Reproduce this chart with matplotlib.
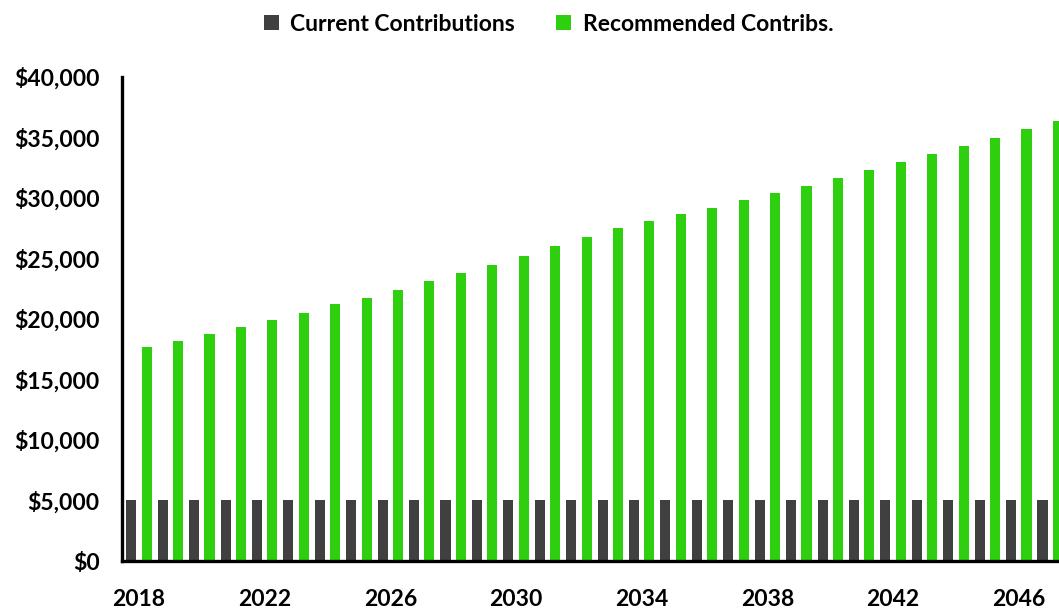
import numpy as np
import matplotlib.pyplot as plt
from matplotlib.ticker import FuncFormatter

plt.rcParams['font.family'] = ['Lato', 'DejaVu Sans']
plt.rcParams['font.weight'] = 'bold'

years = list(range(2018, 2048))
current = [5000] * len(years)
recommended = [17700, 18200, 18800, 19300, 19900, 20500, 21200, 21700, 22400, 23100,
               23800, 24500, 25200, 26000, 26800, 27500, 28100, 28700, 29200, 29800,
               30400, 31000, 31650, 32300, 32950, 33600, 34300, 34950, 35700, 36400]
tick_years = [2018, 2022, 2026, 2030, 2034, 2038, 2042, 2046]

grey = '#404040'
green = '#2ECF0E'

fig = plt.figure(figsize=(10.59, 6.08), dpi=100)
ax = fig.add_axes([0.1152, 0.0773, 0.8848, 0.7961])

x = np.arange(len(years))
w = 0.32
ax.bar(x - 0.245, current, w, color=grey, label='Current Contributions')
ax.bar(x + 0.245, recommended, w, color=green, label='Recommended Contribs.')

ax.set_xlim(-0.54, 29.28)
ax.set_ylim(0, 40000)
ax.set_yticks(range(0, 40001, 5000))
ax.yaxis.set_major_formatter(FuncFormatter(lambda v, p: '${:,.0f}'.format(v)))
ax.set_xticks([years.index(y) for y in tick_years])
ax.set_xticklabels([str(y) for y in tick_years])
ax.tick_params(axis='both', length=0, labelsize=16.5)
ax.tick_params(axis='y', pad=16)
ax.tick_params(axis='x', pad=20)

for s in ['top', 'right']:
    ax.spines[s].set_visible(False)
for s in ['left', 'bottom']:
    ax.spines[s].set_linewidth(2.4)
    ax.spines[s].set_color('black')

fig.legend(loc='center', bbox_to_anchor=(0.518, 0.96), ncol=2, frameon=False,
           fontsize=16.5, handlelength=0.65, handleheight=0.65, handletextpad=0.5,
           columnspacing=1.8)

fig.savefig('out.png', dpi=100)
